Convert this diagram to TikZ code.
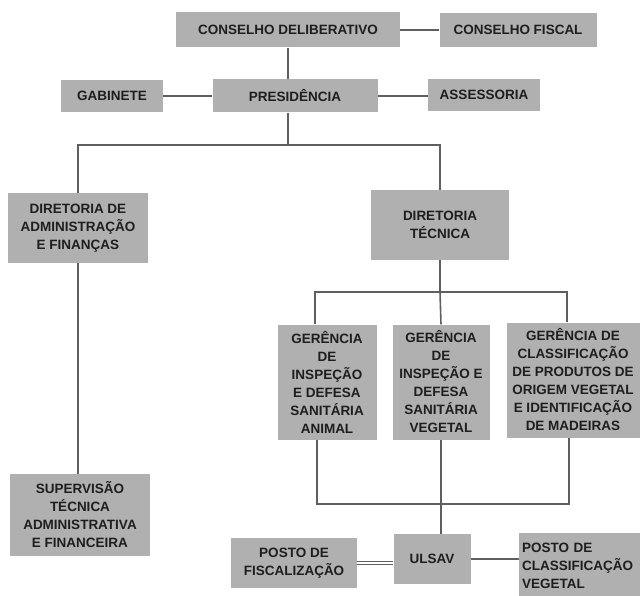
\documentclass[tikz,border=0pt]{standalone}
\usepackage{fontspec}
\setmainfont{Liberation Sans}
\usetikzlibrary{positioning}

\definecolor{boxgray}{RGB}{176,176,176}
\definecolor{linegray}{RGB}{95,95,95}
\definecolor{textgray}{RGB}{30,30,30}

\tikzset{
  orgbox/.style={fill=boxgray,text=textgray,inner sep=3pt,align=center,
    font=\bfseries\fontsize{13.5}{18}\selectfont},
  orgline/.style={draw=linegray,line width=1.6pt},
}

\begin{document}
\begin{tikzpicture}[x=1pt,y=-1pt]

  \useasboundingbox (0,0) rectangle (640,596);
  \clip (0,0) rectangle (640,596);

  % top
  \node [orgbox,minimum width=224pt,minimum height=35pt] (cd) at (288,30) {CONSELHO DELIBERATIVO};
  \node [orgbox,minimum width=157pt,minimum height=34pt] (cf) at (518,30) {CONSELHO FISCAL};
  \node [orgbox,minimum width=102pt,minimum height=32pt] (gab) at (112,96) {GABINETE};
  \node [orgbox,minimum width=165pt,minimum height=33pt] (pres) at (295,96) {PRESIDÊNCIA};
  \node [orgbox,minimum width=112pt,minimum height=32pt] (ass) at (484,95) {ASSESSORIA};

  % diretorias
  \node [orgbox,minimum width=140pt,minimum height=70pt] (daf) at (78,228)
    {DIRETORIA DE\\ADMINISTRAÇÃO\\E FINANÇAS};
  \node [orgbox,minimum width=138pt,minimum height=70pt] (dt) at (440,225)
    {DIRETORIA\\TÉCNICA};
  \node [orgbox,minimum width=140pt,minimum height=82pt] (sup) at (80,515)
    {SUPERVISÃO\\TÉCNICA\\ADMINISTRATIVA\\E FINANCEIRA};

  % gerencias
  \node [orgbox,minimum width=99pt,minimum height=115pt] (g1) at (327,382)
    {GERÊNCIA\\DE\\INSPEÇÃO\\E DEFESA\\SANITÁRIA\\ANIMAL};
  \node [orgbox,minimum width=97pt,minimum height=115pt] (g2) at (441,382)
    {GERÊNCIA\\DE\\INSPEÇÃO E\\DEFESA\\SANITÁRIA\\VEGETAL};
  \node [orgbox,minimum width=133pt,minimum height=115pt] (g3) at (573,380)
    {GERÊNCIA DE\\CLASSIFICAÇÃO\\DE PRODUTOS DE\\ORIGEM VEGETAL\\E IDENTIFICAÇÃO\\DE MADEIRAS};

  % bottom
  \node [orgbox,minimum width=77pt,minimum height=50pt] (ulsav) at (432,559) {ULSAV};
  \node [orgbox,minimum width=126pt,minimum height=50pt] (pf) at (294,563)
    {POSTO DE\\FISCALIZAÇÃO};
  \node [orgbox,align=left,text width=120pt,minimum height=66pt,anchor=north west] (pc) at (519,533)
    {POSTO DE\\CLASSIFICAÇÃO\\VEGETAL};

  \coordinate (bar1) at (288,145);
  \coordinate (bar2) at (440,292);

  \draw [orgline] (cd) -- (cf);
  \draw [orgline] (cd.south) -- (cd.south |- pres.north);
  \draw [orgline] (gab) -- (gab -| pres.west);
  \draw [orgline] (pres.east) -- (pres.east -| ass.west);
  \draw [orgline] (cd.south |- pres.south) -- (bar1);
  \draw [orgline] (daf.north) |- (bar1) -| (dt.north);
  \draw [orgline] (daf.south) -- (daf.south |- sup.north);

  \draw [orgline] (dt.south) -- (bar2);
  \draw [orgline] ([xshift=-12pt]g1.north) |- (bar2) -| ([xshift=-6pt]g3.north);
  \draw [orgline] (bar2) -- (g2.north);
  \draw [orgline] ([xshift=-10pt]g1.south) -- ++(0,64) -| ([xshift=-4pt]g3.south);
  \draw [orgline] (g2.south) -- (g2.south |- ulsav.north);

  \draw [linegray,line width=0.9pt,double=white,double distance=2pt]
    (pf.east) -- (pf.east -| ulsav.west);
  \draw [orgline] (ulsav.east) -- (ulsav.east -| pc.west);

\end{tikzpicture}
\end{document}
